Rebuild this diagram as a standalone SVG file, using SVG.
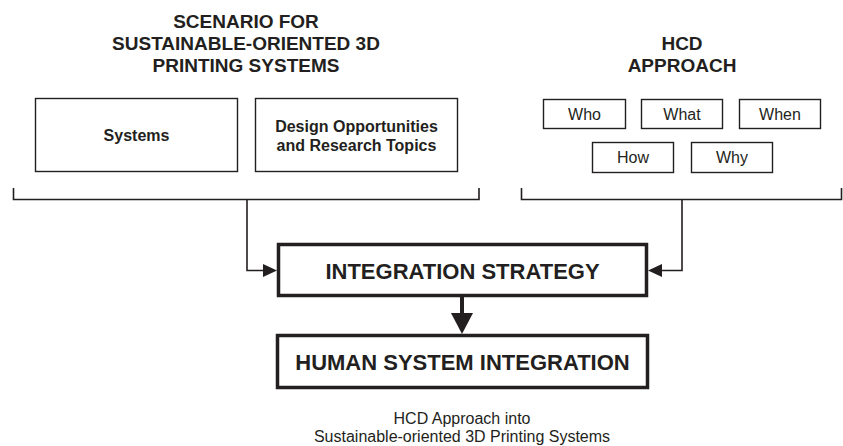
<svg xmlns="http://www.w3.org/2000/svg" width="843" height="446" viewBox="0 0 843 446">
<style>
.bg{fill:#fff}
.thin{fill:#fff;stroke:#231f20;stroke-width:1.4}
.thick{fill:#fff;stroke:#231f20;stroke-width:3.5}
.line{fill:none;stroke:#231f20;stroke-width:1.6}
.head{fill:#231f20}
.title{font-family:"Liberation Sans",Arial,sans-serif;font-weight:bold;font-size:19px;fill:#231f20;text-anchor:middle}
.bold{font-family:"Liberation Sans",Arial,sans-serif;font-weight:bold;font-size:16px;fill:#231f20;text-anchor:middle}
.reg{font-family:"Liberation Sans",Arial,sans-serif;font-size:16px;fill:#231f20;text-anchor:middle}
.big{font-family:"Liberation Sans",Arial,sans-serif;font-weight:bold;font-size:22px;fill:#231f20;text-anchor:middle}
</style>
<rect class="bg" x="0" y="0" width="843" height="446"/>
<g id="scenario-title">
<text class="title" x="246" y="28">SCENARIO FOR</text>
<text class="title" x="246" y="50">SUSTAINABLE-ORIENTED 3D</text>
<text class="title" x="246" y="72">PRINTING SYSTEMS</text>
</g>
<g id="hcd-title">
<text class="title" x="682" y="50">HCD</text>
<text class="title" x="682" y="72">APPROACH</text>
</g>
<g id="systems">
<rect class="thin" x="35.5" y="98.5" width="202" height="73"/>
<text class="bold" x="136.5" y="141">Systems</text>
</g>
<g id="design-opportunities">
<rect class="thin" x="255.5" y="98.5" width="202" height="73"/>
<text class="bold" x="356.5" y="132">Design Opportunities</text>
<text class="bold" x="356.5" y="151">and Research Topics</text>
</g>
<g id="who">
<rect class="thin" x="543.5" y="99.5" width="82" height="29"/>
<text class="reg" x="584.5" y="120">Who</text>
</g>
<g id="what">
<rect class="thin" x="641.5" y="99.5" width="81" height="29"/>
<text class="reg" x="682" y="120">What</text>
</g>
<g id="when">
<rect class="thin" x="739.5" y="99.5" width="81" height="29"/>
<text class="reg" x="780" y="120">When</text>
</g>
<g id="how">
<rect class="thin" x="592.5" y="142.5" width="81" height="30"/>
<text class="reg" x="633" y="163">How</text>
</g>
<g id="why">
<rect class="thin" x="691.5" y="142.5" width="81" height="30"/>
<text class="reg" x="732" y="163">Why</text>
</g>
<g id="integration-strategy">
<rect class="thick" x="278.5" y="244.5" width="368" height="51"/>
<text class="big" x="462.5" y="278.5">INTEGRATION STRATEGY</text>
</g>
<g id="human-system-integration">
<rect class="thick" x="277.5" y="335.5" width="370" height="52"/>
<text class="big" x="462.5" y="369.5">HUMAN SYSTEM INTEGRATION</text>
</g>
<g id="connectors">
<path class="line" d="M13.5,188 V199.5 H479 V188"/>
<path class="line" d="M521.5,188 V199.5 H841.5 V188"/>
<path class="line" d="M247,199.5 V270.5 H265"/>
<polygon class="head" points="263,264 277,270.5 263,277"/>
<path class="line" d="M682,199.5 V270.5 H660"/>
<polygon class="head" points="662,264 648,270.5 662,277"/>
<line x1="462" y1="297" x2="462" y2="315" stroke="#231f20" stroke-width="4"/>
<polygon class="head" points="451,313 473,313 462,334"/>
</g>
<g id="caption">
<text class="reg" x="462" y="424">HCD Approach into</text>
<text class="reg" x="462" y="442">Sustainable-oriented 3D Printing Systems</text>
</g>
</svg>
